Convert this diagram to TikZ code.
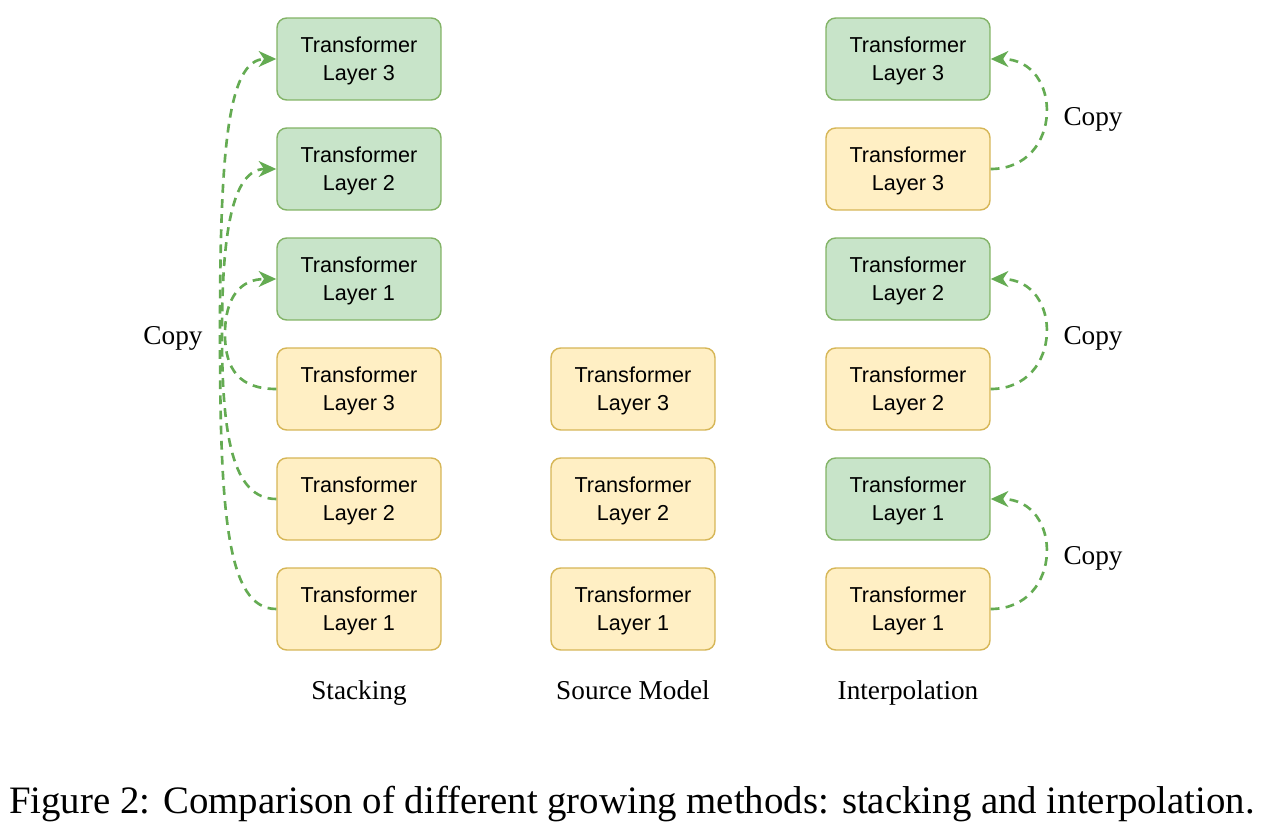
\documentclass[tikz,border=0pt]{standalone}
\usepackage{fontspec}
\setmainfont{Liberation Serif}
\newfontfamily\boxfont{Liberation Sans}
\usetikzlibrary{arrows.meta}
\usetikzlibrary{positioning}
\definecolor{old fill}{HTML}{FFEFC4}
\definecolor{old line}{HTML}{D6B656}
\definecolor{new fill}{HTML}{C8E4C9}
\definecolor{new line}{HTML}{82B366}
\definecolor{copy green}{HTML}{64AB52}
\tikzset{
    % One unit is one pixel of the original figure
    px grid/.style={x=0.02cm, y=-0.02cm},
%
    % A rounded box holding one transformer layer
    layer/.style={
        draw, line width=0.8pt, rounded corners=5.5pt,
        minimum width=3.28cm, minimum height=1.64cm, align=center,
        text depth=0pt,
        font=\boxfont\fontsize{12.3}{15.9}\selectfont},
    % Layers taken over from the source model
    old layer/.style={layer, fill=old fill, draw=old line},
    % Layers added by growing
    new layer/.style={layer, fill=new fill, draw=new line},
%
    % Dashed curve showing where a layer is copied from
    copy arrow/.style={
        draw=copy green, line width=1.5pt, dash pattern=on 5pt off 3.6pt,
        -{Stealth[length=10pt, width=9pt, inset=3pt, fill=copy green]}},
    % Plain serif labels, placed by their baseline
    label text/.style={anchor=base, font=\fontsize{15.5}{18}\selectfont},
    caption text/.style={anchor=base, font=\fontsize{22.1}{26}\selectfont}}

\begin{document}
\begin{tikzpicture}[px grid]
\useasboundingbox (0,0) rectangle (1264,834);

% Stacking
\node [new layer] (stack new 3) at (359,59) {Transformer\\Layer 3};
\node [new layer] (stack new 2) at (359,169) {Transformer\\Layer 2};
\node [new layer] (stack new 1) at (359,279) {Transformer\\Layer 1};
\node [old layer] (stack old 3) at (359,389) {Transformer\\Layer 3};
\node [old layer] (stack old 2) at (359,499) {Transformer\\Layer 2};
\node [old layer] (stack old 1) at (359,609) {Transformer\\Layer 1};

% Source model
\node [old layer] (src 3) at (633,389) {Transformer\\Layer 3};
\node [old layer] (src 2) at (633,499) {Transformer\\Layer 2};
\node [old layer] (src 1) at (633,609) {Transformer\\Layer 1};

% Interpolation
\node [new layer] (interp new 3) at (908,59) {Transformer\\Layer 3};
\node [old layer] (interp old 3) at (908,169) {Transformer\\Layer 3};
\node [new layer] (interp new 2) at (908,279) {Transformer\\Layer 2};
\node [old layer] (interp old 2) at (908,389) {Transformer\\Layer 2};
\node [new layer] (interp new 1) at (908,499) {Transformer\\Layer 1};
\node [old layer] (interp old 1) at (908,609) {Transformer\\Layer 1};

\path[copy arrow]
    (stack old 3.west) .. controls (240,389) and (225,370) .. (225,334)
    .. controls (225,298) and (240,279) .. (stack new 1.west);
\path[copy arrow]
    (stack old 2.west) .. controls (232,499) and (222,434) .. (222,334)
    .. controls (222,234) and (232,169) .. (stack new 2.west);
\path[copy arrow]
    (stack old 1.west) .. controls (227,609) and (220,514) .. (220,334)
    .. controls (220,154) and (227,59) .. (stack new 3.west);

\path[copy arrow]
    (interp old 3.east) .. controls +(73,0) and +(73,0) .. (interp new 3.east);
\path[copy arrow]
    (interp old 2.east) .. controls +(73,0) and +(73,0) .. (interp new 2.east);
\path[copy arrow]
    (interp old 1.east) .. controls +(73,0) and +(73,0) .. (interp new 1.east);

\node [label text] (stack copy) at (173,345) {Copy};
\node [label text] (interp copy 3) at (1093,126) {Copy};
\node [label text] (interp copy 2) at (1093,345) {Copy};
\node [label text] (interp copy 1) at (1093,564) {Copy};

\node [label text] (stack title) at (359,699) {Stacking};
\node [label text] (src title) at (633,699) {Source Model};
\node [label text] (interp title) at (908,699) {Interpolation};

\node [caption text] (figure caption) at (632,813)
    {Figure 2: Comparison of different growing methods: stacking and interpolation.};

\end{tikzpicture}
\end{document}
